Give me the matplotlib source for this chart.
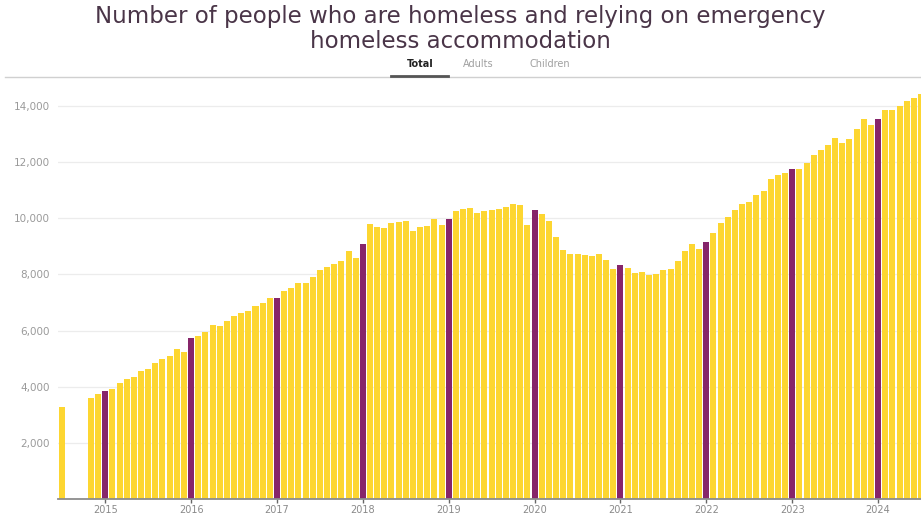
import numpy as np
import pandas as pd
import matplotlib
matplotlib.use('Agg')
import matplotlib.pyplot as plt

# monthly totals, July 2014 to July 2024 (Aug-Oct 2014 not published)
start_month = '2014-07'
totals = [
    3270, np.nan, np.nan, np.nan, 3610, 3730,                                   # 2014
    3850, 3910, 4145, 4265, 4345, 4560, 4643, 4857, 5000, 5094, 5333, 5237,     # 2015
    5725, 5807, 5950, 6187, 6152, 6352, 6519, 6615, 6698, 6864, 6971, 7150,     # 2016
    7150, 7410, 7528, 7683, 7683, 7920, 8158, 8254, 8361, 8490, 8846, 8586,     # 2017
    9100, 9808, 9701, 9655, 9844, 9880, 9904, 9548, 9701, 9726, 9964, 9761,     # 2018
    9986, 10260, 10320, 10378, 10199, 10260, 10285, 10331, 10403, 10520, 10474, 9761,  # 2019
    10296, 10170, 9904, 9334, 8882, 8716, 8740, 8704, 8645, 8740, 8502, 8194,   # 2020
    8325, 8241, 8063, 8087, 7991, 8027, 8146, 8206, 8479, 8835, 9096, 8918,     # 2021
    9168, 9488, 9844, 10057, 10296, 10499, 10581, 10830, 10983, 11390, 11543, 11625,  # 2022
    11746, 11746, 11981, 12244, 12433, 12611, 12850, 12693, 12814, 13170, 13527, 13324,  # 2023
    13527, 13860, 13860, 14020, 14180, 14296, 14418,                             # 2024
]
years = [2015, 2016, 2017, 2018, 2019, 2020, 2021, 2022, 2023, 2024]
y_ticks = [2000, 4000, 6000, 8000, 10000, 12000, 14000]
tabs = ['Total', 'Adults', 'Children']

dates = pd.date_range(start_month, periods=len(totals), freq='MS')
# x position = months since Jan 2015
x = (dates.year - 2015) * 12 + (dates.month - 1)

YELLOW = '#FDD631'
PURPLE = '#86256A'
colors = [PURPLE if d.month == 1 else YELLOW for d in dates]  # January bars highlighted

fig = plt.figure(figsize=(9.21, 5.15), dpi=100)
ax = fig.add_axes([58 / 921, 16 / 515, 1 - 58 / 921, 421 / 515])

ax.bar(x, totals, width=0.84, color=colors, zorder=2)

ax.set_xlim(-6.6, 114.0)
ax.set_ylim(0, 15000)

for t in y_ticks:
    ax.axhline(t, color='#ececec', linewidth=0.9, zorder=1)
ax.set_yticks(y_ticks)
ax.set_yticklabels([f'{t:,}' for t in y_ticks])
ax.tick_params(axis='y', length=0, pad=6, labelsize=7.5, labelcolor='#9a9a9a')

ax.set_xticks([(y - 2015) * 12 for y in years])
ax.set_xticklabels([str(y) for y in years])
ax.tick_params(axis='x', length=3, width=1, color='#666666', pad=1.5,
               labelsize=7, labelcolor='#8a8a8a')

for s in ['top', 'right', 'left']:
    ax.spines[s].set_visible(False)
ax.spines['bottom'].set_color('#8c8c8c')
ax.spines['bottom'].set_linewidth(1.3)
ax.spines['bottom'].set_zorder(3)

# title
fig.text(0.5, 1 - 17 / 515, 'Number of people who are homeless and relying on emergency',
         ha='center', va='center', fontsize=16.5, color='#4a3548')
fig.text(0.5, 1 - 41 / 515, 'homeless accommodation',
         ha='center', va='center', fontsize=16.5, color='#4a3548')

# tab bar
tab_x = [420, 478, 550]
for name, tx in zip(tabs, tab_x):
    fig.text(tx / 921, 1 - 64 / 515, name, ha='center', va='center', fontsize=7,
             fontweight='bold' if name == 'Total' else 'normal',
             color='#222222' if name == 'Total' else '#a0a0a0')
fig.add_artist(plt.Line2D([5 / 921, 1], [1 - 77 / 515] * 2, color='#d0d0d0', linewidth=1))
fig.add_artist(plt.Line2D([391 / 921, 448 / 921], [1 - 75.5 / 515] * 2,
                          color='#555555', linewidth=2))

plt.savefig('out.png', dpi=100)
